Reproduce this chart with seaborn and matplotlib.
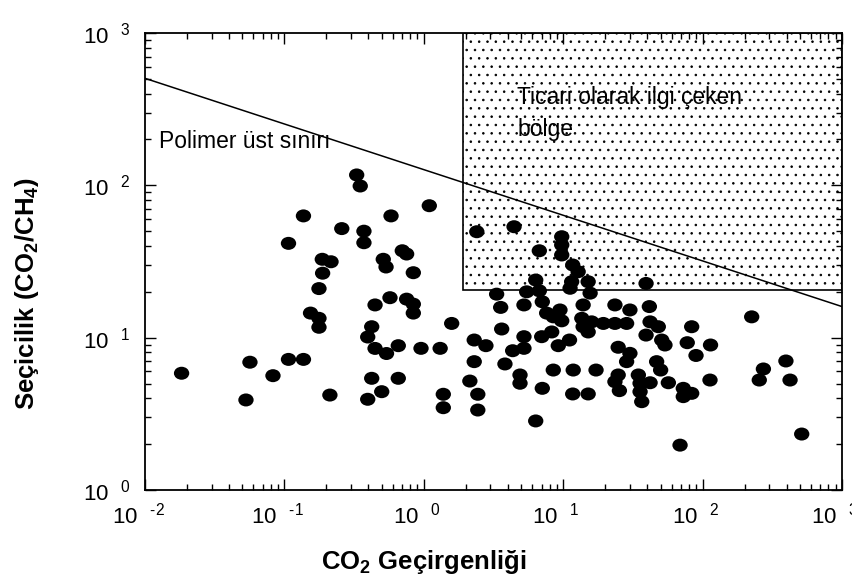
import numpy as np
import pandas as pd
import matplotlib
matplotlib.use("Agg")
import matplotlib.pyplot as plt
import seaborn as sns
from matplotlib.path import Path
from matplotlib.patches import Rectangle
from matplotlib.transforms import ScaledTranslation
from matplotlib.ticker import NullFormatter

# ---- data (CO2 permeability, CO2/CH4 selectivity) ----
permeability = [
    0.33, 0.35, 0.137, 0.258, 0.372, 0.372, 0.107, 0.187, 0.216, 0.188,
    0.177, 0.447, 0.154, 0.177, 0.177, 0.423, 0.396, 0.447, 0.0566, 0.107,
    0.137, 0.0183, 0.0828, 0.423, 0.499, 0.212, 0.053, 0.396,
    1.095, 0.582, 0.701, 0.753, 0.512, 0.536, 0.841, 2.40, 4.44, 6.74,
    6.35, 3.33, 5.47, 6.74, 3.56, 5.23, 7.08, 7.61, 0.572, 0.753,
    0.841, 0.841, 1.585, 3.62, 5.23, 7.01, 2.30, 2.79, 4.34, 5.23,
    0.656, 0.540, 0.955, 1.31, 2.30, 3.82, 4.90, 4.90, 0.656, 2.14,
    1.38, 2.44, 7.08, 1.38, 2.44, 6.35,
    9.76, 9.76, 9.76, 11.7, 12.8, 15.1, 11.5, 11.2, 15.6, 13.9,
    39.3, 23.5, 30.1, 41.5, 9.48, 8.49, 9.76, 13.6, 16.0, 13.9,
    19.4, 23.5, 28.5, 15.1, 8.27, 42.0, 48.1, 83.5, 39.3, 50.9,
    53.7, 77.6, 114, 11.1, 9.22, 24.8, 30.1, 28.5, 89.7, 46.8,
    50.0, 8.49, 11.8, 17.2, 24.8, 23.5, 34.6, 42.0, 35.6, 56.8,
    113, 72.7, 83.5, 72.7, 25.3, 35.6, 36.6, 11.7, 15.1, 68.9,
    225, 396, 273, 255, 424, 514,
]
selectivity = [
    117, 99, 63, 52, 50, 42, 41.6, 32.7, 31.5, 26.5,
    21.0, 16.4, 14.5, 13.4, 11.7, 11.8, 10.1, 8.5, 6.9, 7.2,
    7.2, 5.84, 5.63, 5.41, 4.42, 4.20, 3.90, 3.94,
    73.5, 63, 37.2, 35.4, 32.7, 29.1, 26.7, 49.6, 53.5, 37.2,
    23.9, 19.3, 20.0, 20.3, 15.8, 16.4, 17.2, 14.5, 18.3, 17.9,
    16.6, 14.5, 12.4, 11.4, 10.15, 10.15, 9.65, 8.86, 8.21, 8.51,
    8.86, 7.87, 8.51, 8.51, 6.96, 6.72, 5.69, 5.02, 5.41, 5.19,
    4.25, 4.25, 4.65, 3.47, 3.35, 2.84,
    46.0, 40.6, 34.9, 30.0, 27.1, 23.3, 23.3, 21.1, 19.6, 16.4,
    22.7, 16.4, 15.2, 16.0, 15.2, 13.7, 12.9, 13.4, 12.7, 11.8,
    12.4, 12.4, 12.4, 10.9, 10.9, 12.7, 11.8, 11.8, 10.4, 9.65,
    8.95, 9.27, 8.95, 9.65, 8.86, 8.65, 7.89, 6.96, 7.64, 6.96,
    6.13, 6.13, 6.13, 6.13, 5.69, 5.14, 5.69, 5.06, 5.02, 5.06,
    5.27, 4.65, 4.31, 4.10, 4.49, 4.42, 3.80, 4.27, 4.27, 1.97,
    13.7, 7.03, 6.23, 5.27, 5.27, 2.33,
]

bound_x = [0.01, 1000]          # polymer upper bound line end points
bound_y = [504, 16.0]
region_x = [1.92, 1000]         # commercially attractive region
region_y = [20.6, 1000]

x_ticks = [0.01, 0.1, 1, 10, 100, 1000]
x_exps = ["\u2010" + "2", "\u2010" + "1", "0", "1", "2", "3"]
y_ticks = [1, 10, 100, 1000]
y_exps = ["0", "1", "2", "3"]

# ---- styling ----
sns.set_theme(style="ticks")
plt.rcParams["font.family"] = ["Liberation Sans", "DejaVu Sans"]
plt.rcParams.update({
    "mathtext.fontset": "custom",
    "mathtext.rm": "Liberation Sans",
    "mathtext.bf": "Liberation Sans:bold",
    "mathtext.it": "Liberation Sans:italic",
    "mathtext.default": "regular",
    "axes.edgecolor": "black",
    "axes.linewidth": 1.3,
    "hatch.linewidth": 0.6,
    "hatch.color": "black",
})

fig = plt.figure(figsize=(8.53, 5.81), dpi=100, facecolor="white")
ax = fig.add_axes([145 / 853, 1 - 490 / 581, 697 / 853, 457 / 581])
ax.set_facecolor("white")
ax.set_xscale("log")
ax.set_yscale("log")

rect = Rectangle((region_x[0], region_y[0]), region_x[1] - region_x[0],
                 region_y[1] - region_y[0], fill=False, hatch="..",
                 edgecolor="black", lw=1.2, zorder=1)
ax.add_patch(rect)

ax.plot(bound_x, bound_y, color="black", lw=1.1, zorder=2)

circ = Path.unit_circle()
ellipse = Path(circ.vertices * np.array([1.18, 1.0]), circ.codes)
df = pd.DataFrame({"P": permeability, "S": selectivity})
sns.scatterplot(data=df, x="P", y="S", ax=ax, marker=ellipse, s=122,
                color="black", edgecolor="none", linewidth=0, zorder=3,
                legend=False)

ax.set_xlim(1e-2, 1e3)
ax.set_ylim(1, 1e3)

ax.set_xticks(x_ticks)
ax.set_xticklabels([rf"$10^{{\quad {e}}}$" for e in x_exps])
ax.set_yticks(y_ticks)
ax.set_yticklabels([rf"$10^{{\quad {e}}}$" for e in y_exps])
ax.xaxis.set_minor_formatter(NullFormatter())
ax.yaxis.set_minor_formatter(NullFormatter())

ax.tick_params(which="both", direction="in", top=True, right=True,
               color="black", width=1.0, labelcolor="black")
ax.tick_params(which="major", length=8, labelsize=16)
ax.tick_params(which="minor", length=4)
ax.tick_params(axis="x", which="major", pad=9)
ax.tick_params(axis="y", which="major", pad=10)

for lab in ax.get_xticklabels():
    lab.set_transform(lab.get_transform() +
                      ScaledTranslation(-7 / 100, 0, fig.dpi_scale_trans))

for sp in ax.spines.values():
    sp.set_visible(True)
    sp.set_color("black")
    sp.set_linewidth(1.3)

ax.set_xlabel(r"CO$_\mathbf{2}$ Geçirgenliği", fontsize=18.5,
              fontweight="bold", color="black")
ax.xaxis.set_label_coords(0.40, -0.128)
ax.set_ylabel(r"Seçicilik (CO$_\mathbf{2}$/CH$_\mathbf{4}$)", fontsize=18.5,
              fontweight="bold", color="black")
ax.yaxis.set_label_coords(-0.149, 0.43)

ax.text(0.0205, 0.748, "Polimer üst sınırı", transform=ax.transAxes,
        fontsize=16.5, va="baseline", ha="left", color="black", zorder=4)
ax.text(0.534, 0.883, "Ticari olarak ilgi çeken\nbölge",
        transform=ax.transAxes, fontsize=16.5, va="top", ha="left",
        linespacing=1.45, color="black", zorder=4)

fig.savefig("out.png", dpi=100, facecolor="white")
